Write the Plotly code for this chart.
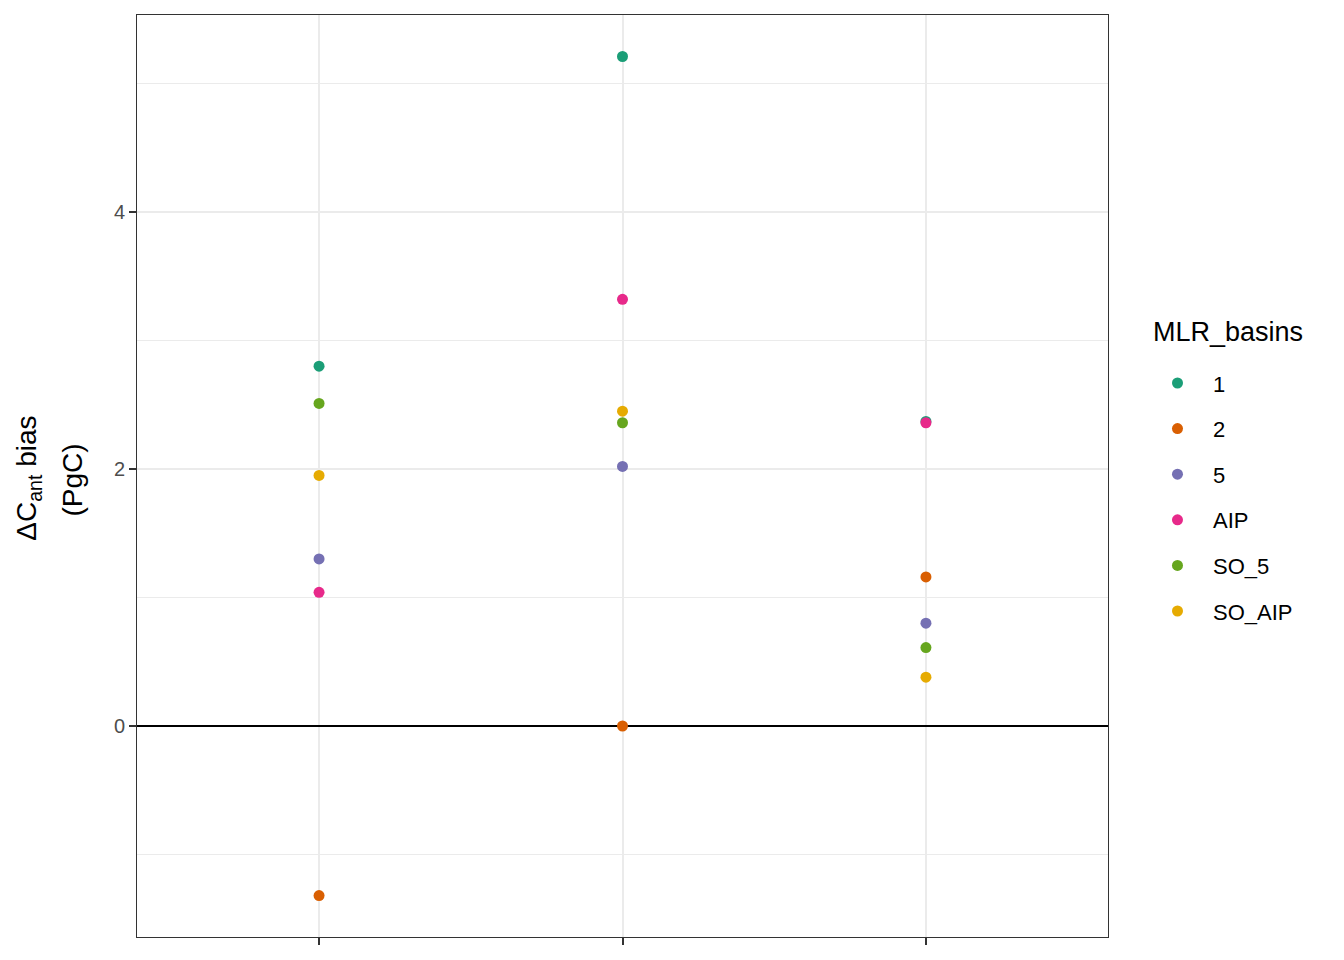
import plotly.graph_objects as go

# Data
categories = ["c1", "c2", "c3"]          # x-axis categories (tick labels are blank)
series_names = ["1", "2", "5", "AIP", "SO_5", "SO_AIP"]
series_colors = ["#1B9E77", "#D95F02", "#7570B3", "#E7298A", "#66A61E", "#E6AB02"]

s_1 = [2.80, 5.21, 2.37]
s_2 = [-1.32, 0.00, 1.16]
s_5 = [1.30, 2.02, 0.80]
s_AIP = [1.04, 3.32, 2.36]
s_SO_5 = [2.51, 2.36, 0.61]
s_SO_AIP = [1.95, 2.45, 0.38]

y_tick_values = [0, 2, 4]
y_tick_labels = ["0", "2", "4"]
y_minor_values = [-1, 1, 3, 5]

series_values = [s_1, s_2, s_5, s_AIP, s_SO_5, s_SO_AIP]
x_pos = [i + 1 for i in range(len(categories))]

FONT = "Liberation Sans, Arial, sans-serif"

fig = go.Figure()
for name, color, vals in zip(series_names, series_colors, series_values):
    fig.add_trace(go.Scatter(
        x=x_pos, y=vals, mode="markers", name=name, legendgroup=name,
        marker=dict(color=color, size=11, line=dict(width=0)),
        cliponaxis=False,
    ))

# page body has an 8px margin: compensate so the panel sits at 137..1108 x 15..937
fig.update_layout(
    width=1344, height=960,
    margin=dict(l=129, r=244, t=7, b=31, autoexpand=False),
    plot_bgcolor="white", paper_bgcolor="white",
    font=dict(family=FONT, color="black"),
    showlegend=True,
    legend=dict(
        font=dict(size=22, color="black"),
        x=1.035, xanchor="left", y=0.477, yanchor="middle",
        tracegroupgap=14, itemwidth=61,
        bgcolor="rgba(0,0,0,0)",
    ),
    xaxis=dict(
        range=[0.4, 3.6], tickvals=x_pos, showticklabels=False,
        showgrid=True, gridcolor="#EBEBEB", gridwidth=2,
        ticks="outside", ticklen=7, tickwidth=2, tickcolor="#333333",
        showline=True, mirror=True, linecolor="#333333", linewidth=1,
        zeroline=False, automargin=False,
    ),
    yaxis=dict(
        range=[-1.642, 5.533], tickvals=y_tick_values, ticktext=y_tick_labels,
        showgrid=True, gridcolor="#EBEBEB", gridwidth=2,
        minor=dict(tickvals=y_minor_values, showgrid=True, gridcolor="#EBEBEB", gridwidth=1, ticks=""),
        ticks="outside", ticklen=7, tickwidth=2, tickcolor="#333333",
        tickfont=dict(size=20, color="#4D4D4D"),
        showline=True, mirror=True, linecolor="#333333", linewidth=1,
        zeroline=True, zerolinecolor="black", zerolinewidth=2,
        automargin=False,
    ),
    annotations=[
        dict(text="ΔC<sub>ant</sub> bias", textangle=-90, font=dict(size=28, color="black"),
             xref="paper", yref="paper", x=0, y=0.497, xanchor="center", yanchor="middle",
             xshift=-108, showarrow=False),
        dict(text="(PgC)", textangle=-90, font=dict(size=28, color="black"),
             xref="paper", yref="paper", x=0, y=0.495, xanchor="center", yanchor="middle",
             xshift=-64, showarrow=False),
        dict(text="MLR_basins", font=dict(size=27, color="black"),
             xref="paper", yref="paper", x=1.0444, y=0.6562, xanchor="left", yanchor="middle",
             showarrow=False),
    ],
)

fig.write_html("out.html")
